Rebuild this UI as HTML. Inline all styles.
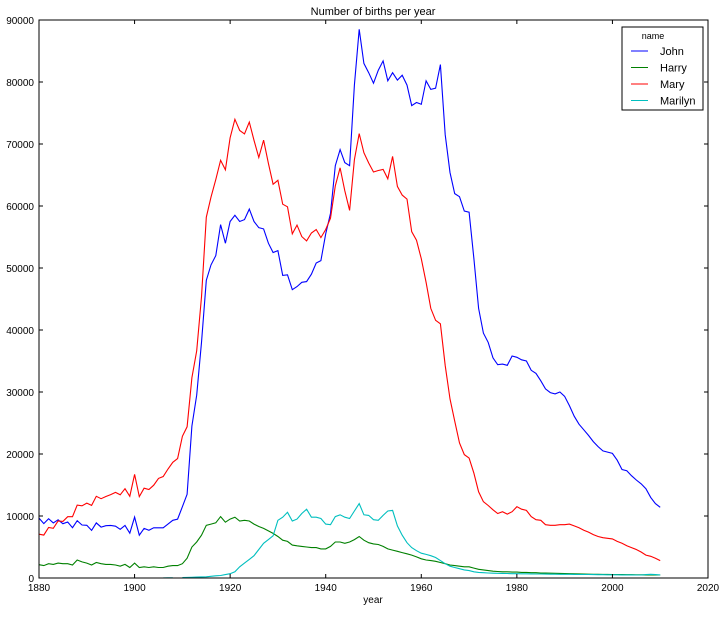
<!DOCTYPE html>
<html><head><meta charset="utf-8"><style>
body{margin:0;background:#fff;}
svg text{font-family:"Liberation Sans",Arial,sans-serif;}
</style></head><body>
<svg id="chart" width="726" height="612" xmlns="http://www.w3.org/2000/svg">
<rect width="726" height="612" fill="#fff"/>
<text x="373" y="15" font-size="11" text-anchor="middle">Number of births per year</text>
<text x="373" y="603" font-size="10" text-anchor="middle">year</text>
<g id="plot"></g>
</svg>
<script>
const startYear = 1880;
const john = [9655,8769,9557,8894,9388,8756,9026,8110,9247,8548,8502,7680,8885,8202,8432,8484,8351,7853,8464,7225,9830,6900,8000,7700,8100,8100,8100,8700,9300,9500,11500,13500,24500,29500,38000,48000,50500,52000,57000,54000,57500,58500,57500,57800,59500,57500,56500,56300,54000,52500,52800,48800,48900,46500,47000,47700,47800,49000,50800,51200,55500,58800,66500,69100,67000,66500,79500,88500,83000,81500,79800,81900,83400,80200,81500,80300,81100,79500,76200,76700,76400,80200,78800,79000,82800,71500,65400,62000,61500,59200,59000,51500,43500,39500,38000,35500,34400,34500,34300,35800,35600,35200,35000,33500,33000,31800,30500,29900,29700,30000,29300,27800,26100,24800,23900,23000,22000,21200,20500,20300,20100,19000,17500,17300,16500,15800,15200,14400,13000,12000,11400];
const harry = [2152,2002,2300,2200,2400,2300,2300,2100,2900,2600,2400,2100,2500,2300,2200,2200,2100,1900,2200,1700,2400,1700,1800,1700,1800,1700,1700,1900,2000,2000,2300,3200,5000,5800,6900,8500,8700,8900,9900,9000,9500,9800,9200,9300,9200,8700,8300,8000,7600,7200,6700,6100,5900,5300,5200,5100,5000,4900,4900,4700,4700,5100,5800,5800,5600,5800,6200,6700,6100,5700,5500,5400,5100,4700,4500,4300,4100,3900,3700,3400,3100,2900,2800,2700,2500,2300,2100,2000,1900,1800,1800,1600,1400,1300,1200,1100,1050,1000,1000,950,950,900,900,850,850,800,800,780,760,740,720,700,680,660,640,620,600,600,580,580,560,560,550,540,530,520,510,500,500,490,480];
const mary = [7065,6919,8148,8012,9217,9128,9889,9888,11754,11648,12078,11703,13172,12784,13151,13446,13811,13413,14406,13172,16707,13136,14486,14275,14961,16066,16370,17580,18665,19259,22848,24390,32304,36641,45345,58187,61438,64281,67368,65839,70980,73985,72173,71635,73536,70591,67830,70631,66868,63508,64146,60296,59872,55507,56924,55065,54373,55642,56216,54904,56203,58040,63244,66168,62464,59284,67468,71681,68597,66935,65486,65721,65903,64390,68001,63160,61763,61105,55860,54486,51477,47680,43485,41560,40997,34270,28887,25327,21767,19900,19343,16900,13900,12300,11700,11000,10400,10700,10300,10700,11500,11100,10900,9900,9400,9300,8600,8500,8500,8600,8600,8700,8400,8100,7700,7400,7000,6700,6500,6400,6300,5900,5600,5200,4900,4600,4200,3700,3500,3200,2800];
const marilynStart = 1906;
const marilyn = [20,30,30,null,80,100,120,150,180,200,280,350,400,550,700,1000,1800,2400,3000,3600,4600,5600,6200,6800,9300,9800,10600,9200,9500,10400,11100,9800,9800,9600,8700,8600,9900,10200,9800,9600,10800,12000,10200,10100,9400,9300,10100,10800,10900,8400,6900,5700,4900,4400,4000,3800,3600,3300,2800,2300,1900,1700,1500,1300,1200,1000,900,850,800,780,760,740,720,700,700,680,680,660,650,640,630,620,610,600,600,590,580,570,560,560,550,540,530,520,520,510,500,500,500,490,480,550,600,550,500];
const xTicks = [1880,1900,1920,1940,1960,1980,2000,2020];
const yTicks = [0,10000,20000,30000,40000,50000,60000,70000,80000,90000];
const names = ["John","Harry","Mary","Marilyn"];
const colors = ["#0000ff","#008000","#ff0000","#00bfbf"];

const L=39,R=708,T=20,B=578;
const xs = v => L + (v-1880)/(2020-1880)*(R-L);
const ys = v => B - v/90000*(B-T);
const NS="http://www.w3.org/2000/svg";
const g=document.getElementById('plot');
function mk(t,a){const e=document.createElementNS(NS,t);for(const k in a)e.setAttribute(k,a[k]);g.appendChild(e);return e;}
function series(arr,start,color,name){
  let d="",pen=false;
  arr.forEach((v,i)=>{ if(v===null){pen=false;return;} d+=(pen?"L":"M")+xs(start+i).toFixed(1)+","+ys(v).toFixed(1); pen=true;});
  const p=mk('path',{d:d,fill:'none',stroke:color,'stroke-width':1.1});
  
  
}
series(john,startYear,colors[0],'john');
series(harry,startYear,colors[1],'harry');
series(mary,startYear,colors[2],'mary');
series(marilyn,marilynStart,colors[3],'marilyn');
const frame=mk('rect',{x:L,y:T,width:R-L,height:B-T,fill:'none',stroke:'#000','stroke-width':1});


xTicks.forEach(t=>{
  const x=xs(t);
  mk('line',{x1:x,x2:x,y1:B,y2:B-4,stroke:'#000'});
  mk('line',{x1:x,x2:x,y1:T,y2:T+4,stroke:'#000'});
  const tx=mk('text',{x:x,y:B+13,'font-size':10,'text-anchor':'middle'});
  tx.textContent=t;
  
  
});
yTicks.forEach(t=>{
  const y=ys(t);
  mk('line',{x1:L,x2:L+4,y1:y,y2:y,stroke:'#000'});
  mk('line',{x1:R,x2:R-4,y1:y,y2:y,stroke:'#000'});
  const tx=mk('text',{x:L-5,y:y+4,'font-size':10,'text-anchor':'end'});
  tx.textContent=t;
  
  
});
// legend
const lb=mk('rect',{x:622,y:27,width:81,height:83,fill:'#fff',stroke:'#000','stroke-width':1});


const lt=mk('text',{x:653,y:39,'font-size':9,'text-anchor':'middle'});
lt.textContent='name';


names.forEach((n,i)=>{
  const y=51+i*16.5;
  mk('line',{x1:631,x2:648,y1:y,y2:y,stroke:colors[i],'stroke-width':1.1});
  const t=mk('text',{x:660,y:y+4,'font-size':11});
  t.textContent=n;
  
  
});
</script>
</body></html>
